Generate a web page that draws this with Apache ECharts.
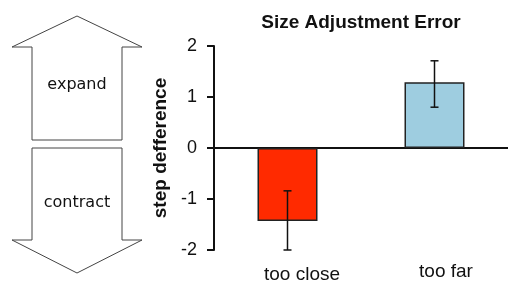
<!DOCTYPE html>
<html lang="en">
<head>
    <meta charset="UTF-8">
    <script src="https://cdn.jsdelivr.net/npm/echarts@6/dist/echarts.min.js"></script>
    <title>Size Adjustment Error</title>
    <style>
        html, body { margin: 0; padding: 0; background: #fff; }
    </style>
</head>
<body>
<div id="chart_main" style="width: 508px; height: 284px;"></div>
<script>

    // chart data
    var categories = ['too close', 'too far'];
    var meanValues = [-1.43, 1.29];
    var errLow = [-2.0, 0.80];
    var errHigh = [-0.84, 1.71];
    var barColors = ['#ff2a00', '#9ecde0'];
    var yTicks = [-2, -1, 0, 1, 2];

    var Chart_Main = echarts.init(document.getElementById('chart_main'));

    var barData = [];
    for (var i in meanValues) {
        barData.push({
            value: meanValues[i],
            itemStyle: { color: barColors[i] }
        });
    }

    var errData = [];
    for (var i in categories) {
        errData.push([Number(i), errLow[i], errHigh[i]]);
    }

    function renderErrorBar(params, api) {
        var low = api.coord([api.value(0), api.value(1)]);
        var high = api.coord([api.value(0), api.value(2)]);
        var half = 4;
        var style = { stroke: '#111', lineWidth: 1.5 };
        return {
            type: 'group',
            children: [
                { type: 'line', shape: { x1: low[0], y1: low[1], x2: high[0], y2: high[1] }, style: style },
                { type: 'line', shape: { x1: low[0] - half, y1: low[1], x2: low[0] + half, y2: low[1] }, style: style },
                { type: 'line', shape: { x1: high[0] - half, y1: high[1], x2: high[0] + half, y2: high[1] }, style: style }
            ]
        };
    }

    // outline arrows at the left
    var arrowStyle = { fill: '#fff', stroke: '#444', lineWidth: 1 };
    var upArrow = [[32, 140], [32, 47], [12, 47], [77, 16], [142, 47], [122, 47], [122, 140]];
    var downArrow = [[32, 148], [32, 240], [12, 240], [77, 273], [142, 240], [122, 240], [122, 148]];

    option = {
        animation: false,
        backgroundColor: '#fff',
        title: {
            text: 'Size Adjustment Error',
            left: 356,
            top: 8,
            textAlign: 'center',
            textStyle: {
                fontFamily: 'Liberation Sans',
                fontWeight: 'bold',
                fontSize: 19,
                color: '#111'
            }
        },
        grid: {
            left: 214,
            right: -2,
            top: 46,
            bottom: 34
        },
        xAxis: [{
            type: 'category',
            data: categories,
            axisLine: { onZero: true, lineStyle: { color: '#111', width: 2 } },
            axisTick: { show: false },
            axisLabel: { show: false }
        }, {
            type: 'category',
            data: [
                { value: categories[0], textStyle: { padding: [3, 0, 0, 29] } },
                { value: categories[1], textStyle: { padding: [0, 0, 0, 23] } }
            ],
            position: 'bottom',
            axisLine: { show: false, onZero: false },
            axisTick: { show: false },
            axisLabel: {
                margin: 12,
                fontFamily: 'Liberation Sans',
                fontSize: 19,
                color: '#111'
            }
        }],
        yAxis: {
            type: 'value',
            min: yTicks[0],
            max: yTicks[yTicks.length - 1],
            interval: 1,
            name: 'step defference',
            nameLocation: 'middle',
            nameRotate: 90,
            nameGap: 40,
            nameTextStyle: {
                fontFamily: 'Liberation Sans',
                fontWeight: 'bold',
                fontSize: 19,
                color: '#111'
            },
            splitLine: { show: false },
            axisLine: { show: true, lineStyle: { color: '#111', width: 2 } },
            axisTick: { show: true, length: 7, lineStyle: { color: '#111', width: 2 } },
            axisLabel: {
                margin: 17,
                fontFamily: 'Liberation Sans',
                fontSize: 18,
                color: '#111'
            }
        },
        series: [{
            type: 'bar',
            data: barData,
            barWidth: 60,
            itemStyle: { borderColor: '#222', borderWidth: 1.5 }
        }, {
            type: 'custom',
            renderItem: renderErrorBar,
            data: errData,
            z: 10
        }],
        graphic: [
            { type: 'polygon', shape: { points: upArrow }, style: arrowStyle },
            { type: 'polygon', shape: { points: downArrow }, style: arrowStyle },
            { type: 'text', x: 77, y: 85, style: { text: 'expand', fontFamily: 'DejaVu Sans', fontSize: 16, fill: '#111', align: 'center', verticalAlign: 'middle' } },
            { type: 'text', x: 77, y: 203, style: { text: 'contract', fontFamily: 'DejaVu Sans', fontSize: 16, fill: '#111', align: 'center', verticalAlign: 'middle' } }
        ]
    };

    Chart_Main.setOption(option);

</script>
</body>
</html>
